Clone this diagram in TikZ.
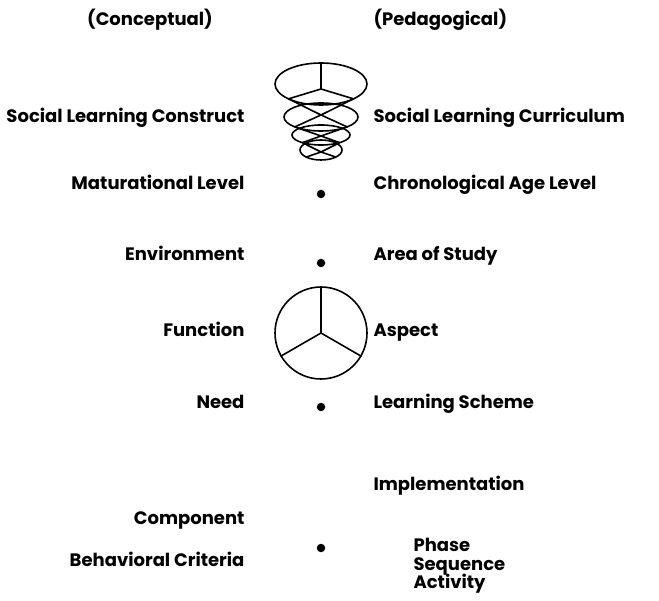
\documentclass[tikz,border=0pt]{standalone}
\usepackage{fontspec}
\setmainfont{Poppins}
\begin{document}
\begin{tikzpicture}[x=1pt,y=-1pt,
    concept/.style={anchor=base east, font=\bfseries\fontsize{18}{20}\selectfont},
    pedag/.style={anchor=base west, font=\bfseries\fontsize{18}{20}\selectfont},
    dot/.style={circle, fill=black, inner sep=0pt, minimum size=8.5pt},
    line/.style={line width=1.6pt}
]
    \useasboundingbox (0,0) rectangle (659,601);

    % Headings
    \node[pedag, anchor=base] (hc) at (150,26) {(Conceptual)};
    \node[pedag] (hp) at (370,26) {(Pedagogical)};

    % Rows
    \node[concept] (c1) at (248,123) {Social Learning Construct};
    \node[pedag] (p1) at (370,123) {Social Learning Curriculum};
    \node[concept] (c2) at (248,190) {Maturational Level};
    \node[pedag] (p2) at (370,190) {Chronological Age Level};
    \node[concept] (c3) at (248,261) {Environment};
    \node[pedag] (p3) at (370,261) {Area of Study};
    \node[concept] (c4) at (248,337) {Function};
    \node[pedag] (p4) at (370,337) {Aspect};
    \node[concept] (c5) at (248,409) {Need};
    \node[pedag] (p5) at (370,409) {Learning Scheme};
    \node[pedag] (p6) at (370,490) {Implementation};
    \node[concept] (c6) at (248,524) {Component};
    \node[concept] (c7) at (248,566) {Behavioral Criteria};
    \node[pedag] (p7) at (410,551) {Phase};
    \node[pedag] (p8) at (410,570) {Sequence};
    \node[pedag] (p9) at (410,588) {Activity};

    % Cone of ellipses
    \foreach \i/\cy/\rx/\ry/\jy/\a in {1/84/46/21/89/135, 2/117/37/14/115/135, 3/135/29/10/136/130, 4/150/21/10/152/135} {
        \draw[line] (321,\cy) ellipse [x radius=\rx, y radius=\ry];
        \coordinate (j\i) at (321,\jy);
        \path (321,\cy) ++(\a:{\rx} and {\ry}) coordinate (l\i);
        \path (321,\cy) ++(180-\a:{\rx} and {\ry}) coordinate (r\i);
    }
    \coordinate (top) at (321,63);
    \draw[line] (top) -- (j1);
    \foreach \i in {1,...,4}
        \draw[line] (l\i) -- (j\i) -- (r\i);
    \foreach \i/\k in {1/2,2/3,3/4}
        \draw[line] (l\i) -- (j\k) -- (r\i);

    % Dots
    \node[dot] (d1) at (321,194) {};
    \node[dot] (d2) at (321,263) {};
    \node[dot] (d3) at (321,407) {};
    \node[dot] (d4) at (321,548) {};

    % Function circle
    \node[draw, circle, line width=1.6pt, minimum size=92pt, inner sep=0pt] (fn) at (321,333) {};
    \draw[line] (fn.center) -- (fn.90);
    \draw[line] (fn.center) -- (fn.210);
    \draw[line] (fn.center) -- (fn.330);
\end{tikzpicture}
\end{document}
